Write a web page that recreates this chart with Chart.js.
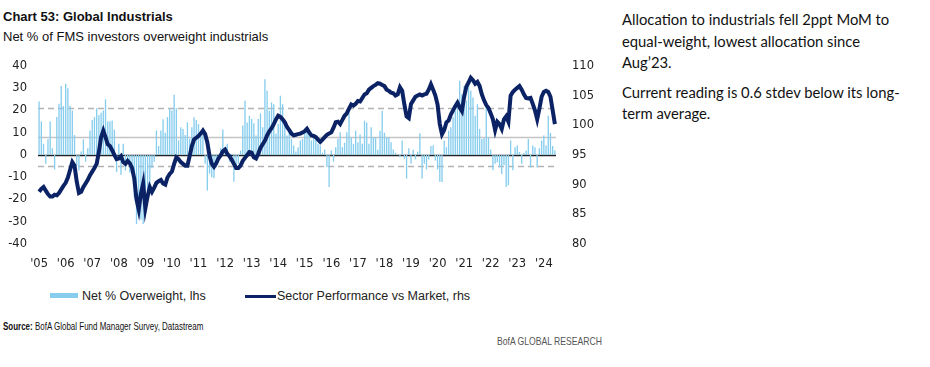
<!DOCTYPE html>
<html>
<head>
<meta charset="utf-8">
<script src="https://cdn.jsdelivr.net/npm/chart.js@4.4.1/dist/chart.umd.min.js"></script>
<style>
  body { margin: 0; background: #fff; width: 930px; height: 367px; position: relative; overflow: hidden; font-family: "Liberation Sans", Arial, sans-serif; color: #111; }
  .abs { position: absolute; white-space: nowrap; }
  #title { left: 3px; top: 9px; font: bold 13px "Liberation Sans", sans-serif; }
  #subtitle { left: 3px; top: 29px; font: 13px "Liberation Sans", sans-serif; }
  #box { left: 0; top: 43px; width: 620px; height: 237px; }
  .leg { top: 289px; font: 12.5px "Liberation Sans", sans-serif; color: #222; }
  #source { left: 3px; top: 320px; font: 10.5px "Liberation Sans", sans-serif; transform: scaleX(0.76); transform-origin: 0 0; }
  #brand { left: 497px; top: 335px; font: 10.5px "Liberation Sans", sans-serif; color: #555; transform: scaleX(0.82); transform-origin: 0 0; }
  #note { left: 622px; top: 9px; font: 14.8px Lato, sans-serif; line-height: 21.5px; }
  #note p { margin: 0 0 8px 0; }
</style>
</head>
<body>
<div class="abs" id="title">Chart 53: Global Industrials</div>
<div class="abs" id="subtitle">Net % of FMS investors overweight industrials</div>
<div class="abs" id="box"><canvas id="chart"></canvas></div>
<div class="abs" style="left:50px;top:293px;width:28px;height:5px;background:#86cdee;"></div>
<div class="abs leg" style="left:82px;">Net % Overweight, lhs</div>
<div class="abs" style="left:245px;top:295px;width:31px;height:3px;background:#0b2265;"></div>
<div class="abs leg" style="left:277px;">Sector Performance vs Market, rhs</div>
<div class="abs" id="source"><b>Source:</b> BofA Global Fund Manager Survey, Datastream</div>
<div class="abs" id="brand">BofA GLOBAL RESEARCH</div>
<div class="abs" id="note">
  <p>Allocation to industrials fell 2ppt MoM to<br>equal-weight, lowest allocation since<br>Aug’23.</p>
  <p>Current reading is 0.6 stdev below its long-<br>term average.</p>
</div>
<script>
// ticks on the x axis, one per january
const yearLabels = ["'05","'06","'07","'08","'09","'10","'11","'12","'13","'14","'15","'16","'17","'18","'19","'20","'21","'22","'23","'24"];

// net % overweight, lhs (monthly, Jan 05 - Jun 24)
const netOverweight = [
  24, 15, 5, -4, 7, 15, 3, -6.5, 17, 23, 31, 22,
  32, 30, 22, 20, 9, -5, -7, 1.5, 7, -3, 3, 11,
  15.7, 17, 21, 18, 19, 20, 25, 15, 15, 15.5, 11.4, -7.7,
  5, -9, 5, -7, -4, -8, -7, -19, -31, -24, -29, -31,
  -25, -20, -14, -6, -3, 11, 4, 11, 16, 10, 17, 21,
  20, 27, 21, 6.5, 12.4, 11.7, 9, 14.6, 7.2, 12.4, 16.9, 15.7,
  13.9, 10.3, 9.5, -4, -16, -8.4, -10, -10.5, -5.6, -3, 3, 11.4,
  3.5, 5, -3, 0.5, -12, -5, -4, 2, 13.2, 24.3, 14.6, 17.6,
  16.2, 14.2, 8.7, 16.2, 18.7, 12.4, 34, 28.8, 19.9, 23.6, 22.8, 9.5,
  13.9, 26.6, 22.8, 13.2, 8.7, 11.7, 7.2, 4.2, 1.5, 3.5, 6.5, 7.2,
  10.2, 10.9, 9.5, 6.5, 7.7, 7.9, 5, 4.2, 1, 2.5, -5.4, -14.4,
  2, -3, 3.5, 7.2, 10.2, 3.5, 5.5, 10.2, 19.1, 7.9, 5, 10.9,
  5.7, 9.2, 5, 15.4, 14.6, 5, 12.4, 7.9, 7.9, 2.3, 10.9, 19.9,
  10, 8, 7.9, 5.7, 2.5, 1, 0, -1, 6.5, -1.8, -10.6, 3,
  -4, 2.3, -2, 1.5, 9.8, -10.6, -4, -6.5, -2, 4, 4.4, -2.5,
  -6.5, -12, -12.1, 6.5, 3.5, 10.9, 12.4, 16.9, 19.9, 24.3, 33.3, 27.3,
  31, 24.3, 31.8, 28.8, 25.8, 17.6, 22.8, 11.7, 7.2, 7.5, 21.3, 7.9,
  2.5, -6.9, -4, -3.3, -5.6, -8.6, -4.5, -14.4, -13.6, 6.5, -6.9, 3.5,
  4.2, 1.3, -4, 0.9, 2, 7.2, -5.6, 4.2, 3.5, -5.6, 3, 6.5,
  8.7, 4.2, 17.6, 9.9, 4, 2
];

// sector performance vs market, rhs
const sectorPerf = [
  88.8, 89.3, 89.6, 89.0, 88.4, 88.0, 88.0, 88.3, 88.2, 88.6, 89.2, 89.8,
  90.3, 91.2, 92.5, 93.8, 93.2, 90.5, 88.6, 88.8, 89.6, 90.2, 90.8, 91.6,
  92.2, 92.8, 93.5, 95.5, 98.0, 99.1, 98.0, 96.8, 96.5, 95.8, 95.0, 94.3,
  94.4, 94.8, 93.8, 93.5, 94.0, 93.6, 92.8, 91.0, 87.5, 85.8, 88.5, 90.2,
  86.0, 88.0, 89.6, 88.8, 89.5, 90.3, 90.6, 90.8, 90.2, 90.0, 91.2, 91.8,
  92.2, 93.5, 94.6, 94.3, 93.8, 93.5, 93.2, 93.2, 94.8, 96.5, 97.6, 97.9,
  98.2, 98.6, 99.1, 98.5, 97.1, 94.8, 93.5, 93.0, 93.6, 94.4, 94.9, 95.6,
  95.9, 95.2, 94.8, 94.2, 93.5, 92.8, 92.8, 93.2, 94.0, 94.5, 95.0, 95.5,
  95.4, 94.6, 94.4, 95.2, 96.2, 96.8, 97.4, 98.3, 99.0, 99.5, 100.2, 101.0,
  101.6, 101.4, 101.0, 100.5, 99.7, 99.2, 98.6, 98.3, 98.4, 98.5, 98.6, 98.8,
  99.0, 99.4, 98.8, 98.3, 98.2, 98.0, 97.6, 97.2, 97.6, 98.0, 98.4, 98.6,
  98.8, 99.6, 100.5, 100.6, 100.2, 100.9, 101.6, 102.0, 102.8, 103.5, 103.3, 103.6,
  104.1, 104.0, 104.6, 105.2, 105.4, 106.0, 106.3, 106.6, 106.8, 107.1, 107.0, 106.8,
  106.6, 106.0, 105.8, 105.5, 105.4, 105.0, 105.2, 106.4, 105.8, 103.5, 101.5, 101.2,
  103.6, 104.2, 104.8, 105.0, 105.2, 105.0, 105.2, 105.3, 106.0, 106.9, 106.0, 105.0,
  103.5, 100.2, 98.5, 99.2, 100.5, 100.8, 101.8, 102.5, 103.2, 103.8, 103.0, 102.4,
  104.8, 106.5, 107.2, 108.0, 107.6, 107.0, 107.3, 106.6, 105.2, 104.2, 103.4, 102.9,
  102.0, 101.0, 99.2, 100.6, 100.2, 99.4, 101.0, 101.5, 100.6, 105.0, 105.6, 106.0,
  106.3, 106.6, 106.0, 105.2, 104.6, 104.5, 104.6, 103.6, 102.5, 101.0, 102.8, 104.8,
  105.6, 105.8, 105.6, 104.8, 102.5, 100.2
];

// long-term average and +/- 1 stdev of the net % series
const avgLevel = 8.2;
const upperBand = 21.1;
const lowerBand = -4.8;

const months = netOverweight.map((v, i) => (2005 + Math.floor(i / 12)) + "-" + (i % 12 + 1));

const tickFont = { family: "DejaVu Sans", size: 11.5 };

// horizontal reference lines across the plot area
const refLinesPlugin = {
  id: "refLines",
  beforeDatasetsDraw(chart) {
    const { ctx, chartArea, scales } = chart;
    const lines = [
      { v: upperBand, color: "#b3b3b3", dash: [6, 4] },
      { v: avgLevel, color: "#c4c4c4", dash: [] },
      { v: lowerBand, color: "#b3b3b3", dash: [6, 4] },
      { v: 0, color: "#222", dash: [] }
    ];
    ctx.save();
    ctx.lineWidth = 1.5;
    lines.forEach(l => {
      const y = Math.round(scales.y.getPixelForValue(l.v)) + 0.5;
      ctx.strokeStyle = l.color;
      ctx.setLineDash(l.dash);
      ctx.beginPath();
      ctx.moveTo(chartArea.left, y);
      ctx.lineTo(chartArea.right, y);
      ctx.stroke();
    });
    ctx.restore();
  }
};

new Chart(document.getElementById("chart"), {
  type: "bar",
  data: {
    labels: months,
    datasets: [
      {
        type: "line",
        label: "Sector Performance vs Market, rhs",
        data: sectorPerf,
        yAxisID: "y1",
        borderColor: "#0b2265",
        borderWidth: 4,
        pointRadius: 0,
        tension: 0,
        order: 0
      },
      {
        label: "Net % Overweight, lhs",
        data: netOverweight,
        yAxisID: "y",
        backgroundColor: "#86cdee",
        barPercentage: 0.6,
        categoryPercentage: 1,
        order: 1
      }
    ]
  },
  options: {
    responsive: true,
    maintainAspectRatio: false,
    animation: false,
    devicePixelRatio: 1,
    layout: { padding: { top: 9, bottom: 0, left: 0, right: 0 } },
    plugins: { legend: { display: false }, tooltip: { enabled: false } },
    scales: {
      x: {
        grid: { display: false, drawTicks: false },
        border: { display: false },
        ticks: {
          autoSkip: false,
          maxRotation: 0,
          padding: 13,
          color: "#222",
          font: tickFont,
          callback: (val, i) => (i % 12 === 0 ? yearLabels[i / 12] : null)
        },
        afterFit: s => { s.height = 36; }
      },
      y: {
        position: "left",
        min: -40,
        max: 40,
        grid: { display: false, drawTicks: false },
        border: { display: false },
        ticks: { stepSize: 10, padding: 11, color: "#222", font: tickFont },
        afterFit: s => { s.width = 38; }
      },
      y1: {
        position: "right",
        min: 80,
        max: 110,
        grid: { display: false, drawTicks: false },
        border: { display: false },
        ticks: { stepSize: 5, padding: 16, color: "#222", font: tickFont },
        afterFit: s => { s.width = 64; }
      }
    }
  },
  plugins: [refLinesPlugin]
});
</script>
</body>
</html>
